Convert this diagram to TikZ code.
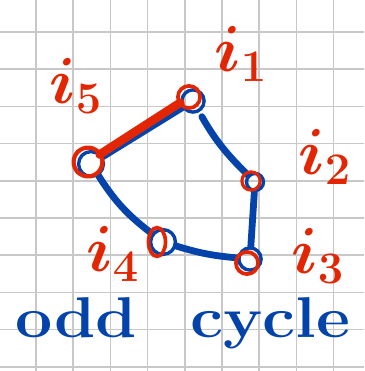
\documentclass[tikz,border=0pt]{standalone}
\usepackage{tikz}
\usetikzlibrary{shapes.geometric,positioning}
\definecolor{pen_blue}{RGB}{4,68,170}
\definecolor{pen_red}{RGB}{226,38,4}
\definecolor{grid_gray}{RGB}{200,200,200}

\begin{document}
\begin{tikzpicture}[
                x=0.02688cm, y=-0.02688cm,
                every node/.style={inner sep=0pt},
                dot/.style={circle, draw=pen_blue, line width=2.6pt, minimum size=17pt},
                ring/.style={circle, draw=pen_red, line width=2.8pt, minimum size=17pt},
                edge_b/.style={pen_blue, line width=5.2pt, line cap=round},
                edge_r/.style={pen_red, line width=6.5pt, line cap=round},
                lbl/.style={text=pen_red, font=\fontsize{24}{28}\selectfont\boldmath, scale=2, transform shape},
                word/.style={text=pen_blue, font=\fontsize{44}{50}\selectfont\bfseries, xscale=1.15, transform shape}
            ]
                \useasboundingbox (0,0) rectangle (364,371);
                \fill[white] (0,0) rectangle (364,371);

                % Squared paper
                \foreach \k in {0,...,8} {
                    \draw[grid_gray, line width=1.1pt] ({36+37.2*\k},0) -- ({36+37.2*\k},371);
                }
                \foreach \k in {0,...,9} {
                    \draw[grid_gray, line width=1.1pt] (0,{32+37.2*\k}) -- (364,{32+37.2*\k});
                }

                % Blue vertices
                \node[dot] (b1) at (193,101) {};
                \node[dot, minimum size=13pt] (b2) at (255,182) {};
                \node[dot] (b3) at (250,259) {};
                \node[dot, minimum size=19pt] (b4) at (163,242) {};
                \node[dot, minimum size=19pt] (b5) at (91,164) {};

                % Blue edges of the cycle
                \draw[edge_b, shorten <=4pt] (b1) to[bend right=8] (b2);
                \draw[edge_b] (b2) -- (b3);
                \draw[edge_b] (b3) to[bend left=6] (b4);
                \draw[edge_b] (b4) to[bend left=10] (b5);
                \draw[edge_b] (b5) -- (b1);

                % Red rings over the vertices
                \node[ring] (r1) at (189,97) {};
                \node[ring, minimum size=14pt, line width=2.4pt] (r2) at (251,181) {};
                \node[ring] (r3) at (247,263) {};
                \node[ring, ellipse, minimum width=13pt, minimum height=22pt] (r4) at (157,242) {};
                \node[ring, minimum size=22pt, line width=3.2pt] (r5) at (88,162) {};

                % Red edge
                \draw[edge_r, shorten <=-2pt, shorten >=-2pt] (r5) -- (r1);

                % Vertex labels
                \node[lbl] (l1) at (241,54) {$i_1$};
                \node[lbl] (l2) at (325,157) {$i_2$};
                \node[lbl] (l3) at (318,256) {$i_3$};
                \node[lbl] (l4) at (113,254) {$i_4$};
                \node[lbl] (l5) at (76,86) {$i_5$};

                % Caption
                \node[word, anchor=base west] (odd) at (15,337) {odd};
                \node[word, anchor=base west] (cycle) at (190,337) {cycle};
            \end{tikzpicture}
\end{document}
